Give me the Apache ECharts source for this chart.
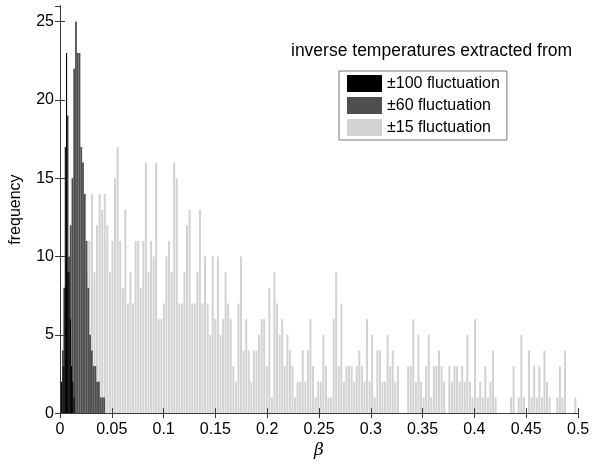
<!DOCTYPE html>
<html lang="en">
<head>
<meta charset="UTF-8">
<title>inverse temperatures</title>
<script src="https://cdn.jsdelivr.net/npm/echarts@6/dist/echarts.min.js"></script>
<style>
    html, body { margin: 0; padding: 0; background: #fff; }
    #main { width: 594px; height: 464px; }
</style>
</head>
<body>
<div id="main"></div>
<script>
// histogram counts (first bin centre + bin width in beta)
var seriesNames = ['±100 fluctuation', '±60 fluctuation', '±15 fluctuation'];

var blackStart = 0.00153, blackBin = 0.0012;
var blackCounts = [2, 4, 8, 17, 23, 19, 10, 6, 3, 2, 1];

var darkStart = 0.0035, darkBin = 0.0017;
var darkCounts = [3, 8, 9, 9, 12, 15, 22, 25, 23, 23, 17, 16, 14, 11, 8, 5, 4, 3, 3, 2, 2, 1, 1, 1];

var lightStart = 0.02335, lightBin = 0.002482;
var lightCounts = [
    9, 9, 11, 14, 9, 12, 14,
    13, 14, 12, 9, 11, 15, 17, 11, 8, 13, 7, 9, 7, 11, 11, 8, 11, 16, 9, 11, 10, 16, 6, 6,
    7, 10, 11, 9, 16, 15, 7, 7, 9, 12, 13, 7,
    7, 9, 13, 7, 10, 7, 5, 10, 6, 10, 5, 6, 9, 7, 6, 3, 2, 7, 10, 4, 6, 4, 2, 4, 4, 5,
    6, 6, 3, 8, 1, 9, 7, 5, 6, 3, 5, 4, 3,
    1, 2, 2, 4, 2, 4, 6, 3, 1, 2, 2, 5, 3, 1, 1, 6, 9, 3, 7, 2, 3, 3, 3, 2, 3, 4, 3, 2,
    6, 2, 5, 1, 4, 4, 2, 2, 5, 3, 4, 2, 3, 0, 0, 0, 3, 3, 6, 2, 5, 2, 1, 3, 5,
    1, 3, 3, 4, 3, 2, 0, 3, 2, 3, 3, 2, 3, 2, 5, 2, 1, 6, 1, 2, 1, 3, 1, 2, 4, 1, 0, 0,
    0, 0, 0, 1, 3, 0, 1, 5, 1, 0, 4, 1, 3, 1, 3, 1, 4, 2, 1, 0, 0, 1, 3, 1, 4, 0, 0, 0, 1
];

var xMin = 0, xMax = 0.5, xStep = 0.05;
var yMin = 0, yMax = 26, yStep = 5;

function toPairs(start, bin, counts) {
    var out = [];
    counts.forEach(function (c, i) {
        out.push([start + i * bin, c]);
    });
    return out;
}

var font = 'Liberation Sans, Arial, sans-serif';
var frameColor = '#3a3a3a';

var myChart = echarts.init(document.getElementById('main'));

var baseX = {
    type: 'value',
    min: xMin,
    max: xMax,
    interval: xStep,
    splitLine: { show: false },
    axisLine: { show: true, lineStyle: { color: frameColor, width: 1 } },
    axisTick: { show: true, inside: true, length: 5, lineStyle: { color: frameColor } },
    z: 10
};

var option = {
    animation: false,
    backgroundColor: '#fff',
    title: {
        text: 'inverse temperatures extracted from',
        left: 286,
        top: 37,
        textStyle: { fontFamily: font, fontSize: 17.5, fontWeight: 'normal', color: '#000' }
    },
    legend: {
        data: seriesNames,
        orient: 'vertical',
        left: 339,
        top: 71,
        padding: [4, 7, 4, 8],
        itemGap: 5,
        itemWidth: 35,
        itemHeight: 17,
        icon: 'rect',
        borderColor: '#777',
        borderWidth: 1,
        backgroundColor: '#fff',
        textStyle: { fontFamily: font, fontSize: 16, color: '#000' }
    },
    grid: { left: 57, right: 16, top: 6, bottom: 47 },
    xAxis: [
        Object.assign({}, baseX, {
            position: 'bottom',
            name: 'β',
            nameLocation: 'middle',
            nameGap: 26,
            nameTextStyle: { fontFamily: 'DejaVu Serif, serif', fontStyle: 'italic', fontSize: 17, color: '#000' },
            axisLabel: { fontFamily: font, fontSize: 16, color: '#000', margin: 8 }
        }),
        Object.assign({}, baseX, {
            position: 'top',
            axisLabel: { show: false }
        }),
        Object.assign({}, baseX, {
            show: false
        })
    ],
    yAxis: [
        {
            type: 'value',
            min: yMin,
            max: yMax,
            interval: yStep,
            name: 'frequency',
            nameLocation: 'middle',
            nameRotate: 90,
            nameGap: 36,
            nameTextStyle: { fontFamily: font, fontSize: 16, color: '#000' },
            splitLine: { show: false },
            axisLine: { show: true, lineStyle: { color: frameColor, width: 1 } },
            axisTick: { show: true, inside: true, length: 5, lineStyle: { color: frameColor } },
            axisLabel: { fontFamily: font, fontSize: 16, color: '#000', margin: 6, showMaxLabel: false },
            z: 10
        },
        {
            type: 'value',
            min: yMin,
            max: yMax,
            interval: yStep,
            position: 'right',
            splitLine: { show: false },
            axisLine: { show: true, lineStyle: { color: frameColor, width: 1 } },
            axisTick: { show: true, inside: true, length: 5, lineStyle: { color: frameColor } },
            axisLabel: { show: false },
            z: 10
        }
    ],
    series: [
        {
            name: seriesNames[0],
            type: 'bar',
            xAxisIndex: 2,
            yAxisIndex: 0,
            barWidth: 1.1,
            z: 4,
            itemStyle: { color: '#000' },
            data: toPairs(blackStart, blackBin, blackCounts)
        },
        {
            name: seriesNames[1],
            type: 'bar',
            xAxisIndex: 1,
            yAxisIndex: 0,
            barWidth: 1.8,
            z: 3,
            itemStyle: { color: '#4f4f4f' },
            data: toPairs(darkStart, darkBin, darkCounts)
        },
        {
            name: seriesNames[2],
            type: 'bar',
            xAxisIndex: 0,
            yAxisIndex: 0,
            barWidth: 2,
            z: 2,
            itemStyle: { color: '#d2d2d2' },
            data: toPairs(lightStart, lightBin, lightCounts)
        }
    ]
};

myChart.setOption(option);
</script>
</body>
</html>
